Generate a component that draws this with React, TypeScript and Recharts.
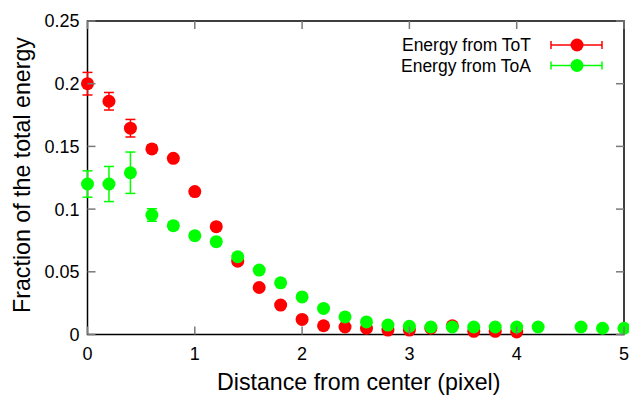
import React from 'react';
import { ScatterChart, Scatter, XAxis, YAxis, ErrorBar, ReferenceArea } from 'recharts';

// ---------- data ----------
const totX = [0, 0.2, 0.4, 0.6, 0.8, 1.0, 1.2, 1.4, 1.6, 1.8, 2.0, 2.2, 2.4, 2.6, 2.8, 3.0, 3.2, 3.4, 3.6, 3.8, 4.0];
const totY = [0.2, 0.186, 0.1645, 0.148, 0.1405, 0.114, 0.086, 0.0585, 0.0375, 0.0235, 0.012, 0.007, 0.006, 0.005, 0.0035, 0.0035, 0.005, 0.007, 0.0025, 0.0025, 0.002];
const totErr = [0.009, 0.007, 0.007, 0.003, 0.002, 0.002, 0.002, 0.001, 0.001, 0.001, 0.001, 0.001, 0.001, 0.001, 0.001, 0.001, 0.001, 0.001, 0.001, 0.001, 0.001];

const toaX = [0, 0.2, 0.4, 0.6, 0.8, 1.0, 1.2, 1.4, 1.6, 1.8, 2.0, 2.2, 2.4, 2.6, 2.8, 3.0, 3.2, 3.4, 3.6, 3.8, 4.0, 4.2, 4.6, 4.8, 5.0];
const toaY = [0.12, 0.12, 0.129, 0.0953, 0.0868, 0.0788, 0.074, 0.062, 0.0514, 0.0412, 0.03, 0.0208, 0.014, 0.01, 0.0075, 0.0065, 0.006, 0.006, 0.006, 0.006, 0.006, 0.006, 0.006, 0.005, 0.005];
const toaErr = [0.0105, 0.014, 0.0165, 0.005, 0.003, 0.002, 0.002, 0.002, 0.001, 0.001, 0.001, 0.001, 0.001, 0.001, 0.001, 0.001, 0.001, 0.001, 0.001, 0.001, 0.001, 0.001, 0.001, 0.001, 0.001];

const xTicks = [0, 1, 2, 3, 4, 5];
const yTicks = [0, 0.05, 0.1, 0.15, 0.2, 0.25];
const seriesNames = ['Energy from ToT', 'Energy from ToA'];
const seriesColors = ['#ff0000', '#00ff00'];
const xTitle = 'Distance from center (pixel)';
const yTitle = 'Fraction of the total energy';

const totData = totX.map((x, i) => ({ x, y: totY[i], err: totErr[i] }));
const toaData = toaX.map((x, i) => ({ x, y: toaY[i], err: toaErr[i] }));

// ---------- layout ----------
const W = 629;
const H = 396;
const FONT = '"Liberation Sans", Arial, Helvetica, sans-serif';
const M = { top: 21, right: 5, bottom: 0, left: 0 };
const Y_AXIS_W = 87.5;
const X_AXIS_H = 61.5;
const PLOT_TOP = M.top;
const PLOT_RIGHT = W - M.right;
const PLOT_LEFT = M.left + Y_AXIS_W;
const PLOT_BOTTOM = H - M.bottom - X_AXIS_H;
const TICK_LEN = 8;
const TICK_COLOR = '#7a7a7a';
const Y_TICK_MARGIN = 8;
const TITLE_SIZE = 23.2;

const fmtY = (v: number) => (v === 0 ? '0' : String(v));

const YTick = (props: any) => {
  const { y, payload } = props;
  const ax = PLOT_LEFT;
  return (
    <g>
      <line x1={ax} x2={ax + TICK_LEN} y1={y} y2={y} stroke={TICK_COLOR} strokeWidth={1.5} />
      <line x1={PLOT_RIGHT - TICK_LEN} x2={PLOT_RIGHT} y1={y} y2={y} stroke={TICK_COLOR} strokeWidth={1.5} />
      <text x={ax - Y_TICK_MARGIN} y={y} dy="0.36em" textAnchor="end" fontSize={18} fontFamily={FONT} fill="#000">
        {fmtY(payload.value)}
      </text>
    </g>
  );
};

const XTick = (props: any) => {
  const { x, payload } = props;
  const ay = PLOT_BOTTOM;
  return (
    <g>
      <line x1={x} x2={x} y1={ay} y2={ay - TICK_LEN} stroke={TICK_COLOR} strokeWidth={1.5} />
      <line x1={x} x2={x} y1={PLOT_TOP} y2={PLOT_TOP + TICK_LEN} stroke={TICK_COLOR} strokeWidth={1.5} />
      <text x={x} y={ay + 25} textAnchor="middle" fontSize={18} fontFamily={FONT} fill="#000">
        {payload.value}
      </text>
    </g>
  );
};

const dot = (color: string) => (p: any) => <circle cx={p.cx} cy={p.cy} r={6.5} fill={color} />;

export default function App() {
  const yMid = 175;
  return (
    <div style={{ position: 'absolute', left: 0, top: 0, width: W, height: H, background: '#fff' }}>
      <ScatterChart width={W} height={H} margin={M}>
        <XAxis
          type="number"
          dataKey="x"
          domain={[0, 5]}
          ticks={xTicks}
          height={X_AXIS_H}
          axisLine={false}
          tickLine={false}
          tickSize={0}
          tick={<XTick />}
        />
        <YAxis
          type="number"
          dataKey="y"
          domain={[0, 0.25]}
          ticks={yTicks}
          width={Y_AXIS_W}
          axisLine={false}
          tickLine={false}
          tickSize={0}
          tickMargin={Y_TICK_MARGIN}
          tick={<YTick />}
        />
        <ReferenceArea x1={0} x2={5} y1={0} y2={0.25} fill="none" fillOpacity={0} stroke="#000" strokeWidth={1.5} ifOverflow="visible" />
        <Scatter data={totData} fill={seriesColors[0]} shape={dot(seriesColors[0])} isAnimationActive={false}>
          <ErrorBar dataKey="err" direction="y" width={5} stroke={seriesColors[0]} strokeWidth={1.5} isAnimationActive={false} />
        </Scatter>
        <Scatter data={toaData} fill={seriesColors[1]} shape={dot(seriesColors[1])} isAnimationActive={false}>
          <ErrorBar dataKey="err" direction="y" width={5} stroke={seriesColors[1]} strokeWidth={1.5} isAnimationActive={false} />
        </Scatter>
      </ScatterChart>
      <svg width={W} height={H} style={{ position: 'absolute', left: 0, top: 0, pointerEvents: 'none' }}>
        <text
          x={22}
          y={yMid}
          transform={`rotate(-90 22 ${yMid})`}
          textAnchor="middle"
          dy="0.35em"
          fontSize={TITLE_SIZE}
          fontFamily={FONT}
          fill="#000"
        >
          {yTitle}
        </text>
        <text x={(PLOT_LEFT + PLOT_RIGHT) / 2 + 3} y={390} textAnchor="middle" fontSize={TITLE_SIZE} fontFamily={FONT} fill="#000">
          {xTitle}
        </text>
        {seriesNames.map((name, i) => {
          const cy = 45 + i * 20.5;
          return (
            <g key={name}>
              <text x={531} y={cy} dy="0.36em" textAnchor="end" fontSize={17.5} fontFamily={FONT} fill="#000">
                {name}
              </text>
              <line x1={551} x2={602} y1={cy} y2={cy} stroke={seriesColors[i]} strokeWidth={1.5} />
              <line x1={551} x2={551} y1={cy - 4} y2={cy + 4} stroke={seriesColors[i]} strokeWidth={1.5} />
              <line x1={602} x2={602} y1={cy - 4} y2={cy + 4} stroke={seriesColors[i]} strokeWidth={1.5} />
              <circle cx={577} cy={cy} r={6.5} fill={seriesColors[i]} />
            </g>
          );
        })}
      </svg>
    </div>
  );
}
